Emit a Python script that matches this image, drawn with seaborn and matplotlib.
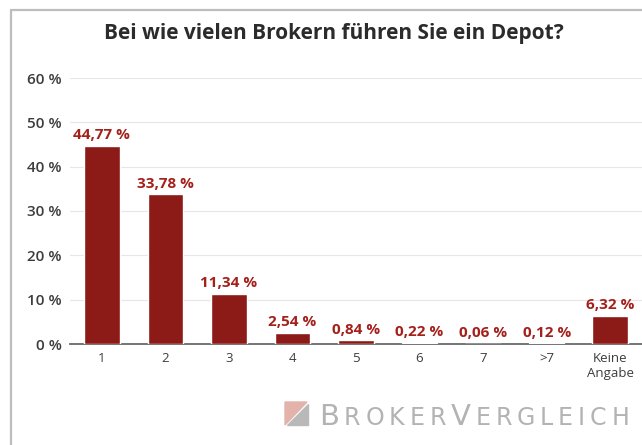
import matplotlib
matplotlib.use("Agg")
import matplotlib.pyplot as plt
import seaborn as sns
import pandas as pd
from matplotlib.patches import Polygon
from matplotlib.lines import Line2D

# --- DATA ---
categories = ["1", "2", "3", "4", "5", "6", "7", ">7", "Keine\nAngabe"]
shares = [44.77, 33.78, 11.34, 2.54, 0.84, 0.22, 0.06, 0.12, 6.32]
y_ticks = [0, 10, 20, 30, 40, 50, 60]

BAR_RED = "#8c1a16"
LABEL_RED = "#a3201b"
TEXT_GRAY = "#3d3d3d"
W, H = 642, 445

sns.set_theme(style="white")
plt.rcParams["font.family"] = ["Open Sans", "DejaVu Sans"]

df = pd.DataFrame({"cat": categories, "share": shares})

fig = plt.figure(figsize=(W / 100, H / 100), dpi=100)
ax = fig.add_axes([70 / W, 101 / H, 572 / W, 266 / H])

sns.barplot(data=df, x="cat", y="share", color=BAR_RED, width=0.56,
            saturation=1, ax=ax, zorder=3)

ax.set_ylim(0, 60)
ax.set_xlim(-0.5, len(categories) - 0.5)
ax.set_yticks(y_ticks)
ax.set_yticklabels([f"{t} %" for t in y_ticks], fontsize=11,
                   fontweight="semibold", color=TEXT_GRAY)
ax.tick_params(axis="y", length=0, pad=6)
ax.tick_params(axis="x", length=0, pad=6, labelsize=9.5, labelcolor=TEXT_GRAY)
ax.set_xlabel("")
ax.set_ylabel("")
ax.grid(axis="y", color="#e6e6e6", linewidth=0.8, zorder=0)
for s in ["top", "right", "left"]:
    ax.spines[s].set_visible(False)
ax.spines["bottom"].set_color("#6a6a6a")
ax.spines["bottom"].set_linewidth(1.3)

# value labels
for i, v in enumerate(shares):
    ax.text(i, v + 0.8, f"{v:.2f} %".replace(".", ","), ha="center",
            va="bottom", fontsize=11, fontweight="bold", color=LABEL_RED)

# title
fig.text(334 / W, 1 - 39 / H, "Bei wie vielen Brokern führen Sie ein Depot?",
         ha="center", va="baseline", fontsize=15, fontweight="bold",
         color="#2b2b2b")

# panel border (left and top)
fig.add_artist(Line2D([11 / W, 11 / W], [0, 1 - 10 / H],
                      transform=fig.transFigure, color="#bdbdbd", linewidth=1.6))
fig.add_artist(Line2D([11 / W, 1], [1 - 10 / H, 1 - 10 / H],
                      transform=fig.transFigure, color="#bdbdbd", linewidth=1.6))

# watermark logo
x0, x1, y0, y1 = 285, 307, 402, 425
fig.add_artist(Polygon([(x0 / W, 1 - y0 / H), (x1 / W, 1 - y0 / H), (x0 / W, 1 - y1 / H)],
                       closed=True, transform=fig.transFigure, color="#e3b3ab"))
fig.add_artist(Polygon([((x1 + 1) / W, 1 - (y0 + 2) / H), ((x1 + 1) / W, 1 - y1 / H),
                        ((x0 + 2) / W, 1 - y1 / H)],
                       closed=True, transform=fig.transFigure, color="#b9b9b9"))

# watermark text, small caps look, spread over its width
word = "BROKERVERGLEICH"
big = {0, 6}
renderer = fig.canvas.get_renderer()
letters = []
for k, ch in enumerate(word):
    t = fig.text(0, 1 - 425 / H, ch, ha="left", va="baseline",
                 fontsize=21 if k in big else 17, family="DejaVu Sans",
                 color="#b3b3b3")
    letters.append(t)
widths = [t.get_window_extent(renderer=renderer).width for t in letters]
start, end = 319, 629
gap = (end - start - sum(widths)) / (len(word) - 1)
xpos = start
for t, w in zip(letters, widths):
    t.set_x(xpos / W)
    xpos += w + gap

fig.savefig("out.png", dpi=100)
